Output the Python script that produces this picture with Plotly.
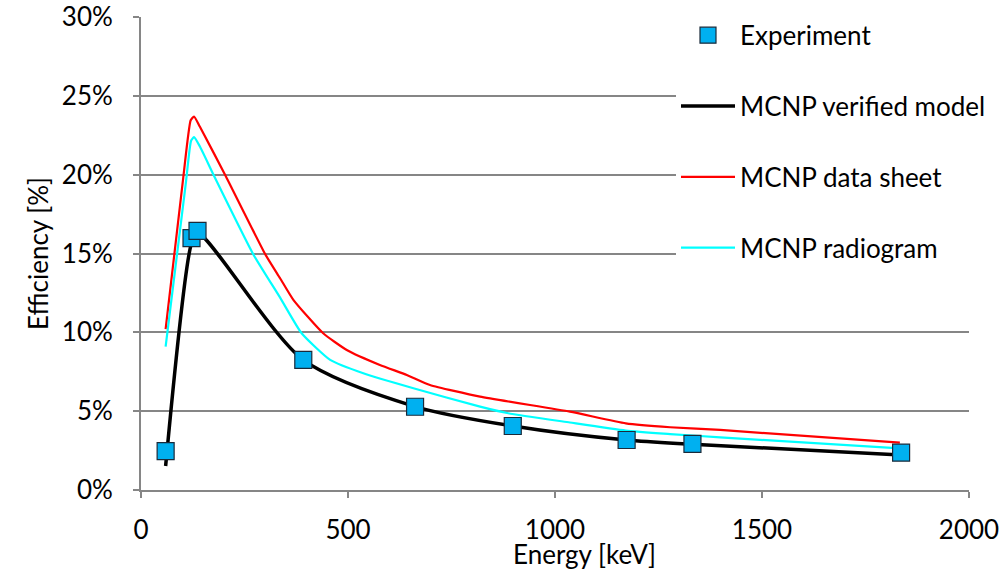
import plotly.graph_objects as go

# Experiment
exp_e = [59.5, 122, 136.5, 392, 662, 898, 1173, 1332, 1836]
exp_eff = [2.47, 15.97, 16.43, 8.25, 5.28, 4.06, 3.17, 2.92, 2.37]

# MCNP verified model
ver_e = [59.5, 122, 136.5, 392, 662, 898, 1173, 1332, 1836]
ver_eff = [1.52, 15.65, 16.3, 8.25, 5.29, 4.06, 3.17, 2.9, 2.22]

# MCNP data sheet
ds_e = [59.5, 102, 120, 128, 142, 203, 300, 336, 368, 440, 497, 577, 642, 698, 819, 1036, 1171, 1278, 1399, 1833]
ds_eff = [10.2, 19.8, 23.45, 23.69, 23.05, 20.0, 14.96, 13.43, 12.06, 9.94, 8.88, 7.93, 7.3, 6.66, 5.92, 4.97, 4.23, 3.98, 3.81, 3.0]

# MCNP radiogram
rg_e = [59.5, 108, 121, 128, 142, 175, 271, 336, 388, 457, 537, 658, 819, 887, 1036, 1171, 1278, 1399, 1833]
rg_eff = [9.1, 19.4, 22.15, 22.38, 21.8, 20.0, 14.96, 12.2, 9.94, 8.25, 7.4, 6.45, 5.29, 4.87, 4.28, 3.77, 3.55, 3.34, 2.64]

FONT = "Lato"
GRID = "#868686"
FS = 26

L, T = 141, 17
PW, PH = 828, 473
W, H = 1004, 574

fig = go.Figure()
fig.add_trace(go.Scatter(x=ds_e, y=ds_eff, mode="lines", name="MCNP data sheet",
                         line=dict(color="#FF0000", width=2.2, shape="spline", smoothing=0.5),
                         legendrank=3, legendgroup="c"))
fig.add_trace(go.Scatter(x=rg_e, y=rg_eff, mode="lines", name="MCNP radiogram",
                         line=dict(color="#00FFFF", width=2.2, shape="spline", smoothing=0.5),
                         legendrank=4, legendgroup="d"))
fig.add_trace(go.Scatter(x=ver_e, y=ver_eff, mode="lines", name="MCNP verified model",
                         line=dict(color="#000000", width=3.5, shape="spline", smoothing=0.8),
                         legendrank=2, legendgroup="b"))
fig.add_trace(go.Scatter(x=exp_e, y=exp_eff, mode="markers", name="Experiment",
                         marker=dict(symbol="square", size=17, color="#00B0F0",
                                     line=dict(color="#1a2a3a", width=1.2)),
                         legendrank=1, legendgroup="a"))

fig.update_layout(
    template="none",
    width=W, height=H,
    margin=dict(l=L, r=W - L - PW, t=T, b=H - T - PH, autoexpand=False),
    paper_bgcolor="white", plot_bgcolor="white",
    font=dict(family=FONT, size=FS, color="#000000"),
    showlegend=True,
    legend=dict(x=(676 - 141) / PW, y=1.011, xanchor="left", yanchor="top",
                bgcolor="white", borderwidth=0,
                font=dict(family=FONT, size=FS, color="#000000"),
                tracegroupgap=34, itemwidth=54, traceorder="grouped"),
    xaxis=dict(range=[0, 2000], dtick=500, tick0=0, showgrid=False,
               showline=True, linecolor=GRID, linewidth=2, automargin=False,
               ticks="outside", ticklen=6, tickcolor=GRID, tickwidth=2,
               ticklabelstandoff=10, zeroline=False, ticklabeloverflow="allow",
               tickfont=dict(family=FONT, size=FS)),
    yaxis=dict(range=[0, 30], dtick=5, tick0=0, ticksuffix="%",
               showgrid=True, gridcolor=GRID, gridwidth=2, automargin=False,
               showline=True, linecolor=GRID, linewidth=2,
               ticks="outside", ticklen=6, tickcolor=GRID, tickwidth=2,
               ticklabelstandoff=15, zeroline=False, ticklabeloverflow="allow",
               tickfont=dict(family=FONT, size=FS),
               title=dict(text="Efficiency [%]", standoff=6,
                          font=dict(family=FONT, size=FS))),
    annotations=[dict(text="Energy [keV]", xref="paper", yref="paper",
                      x=(584 - 141) / PW, y=-(554 - 490) / PH,
                      xanchor="center", yanchor="middle", showarrow=False,
                      font=dict(family=FONT, size=FS, color="#000000"))],
)

fig.write_html("out.html", config={"displayModeBar": False},
               post_script="document.body.style.margin='0';document.body.style.overflow='hidden';")
